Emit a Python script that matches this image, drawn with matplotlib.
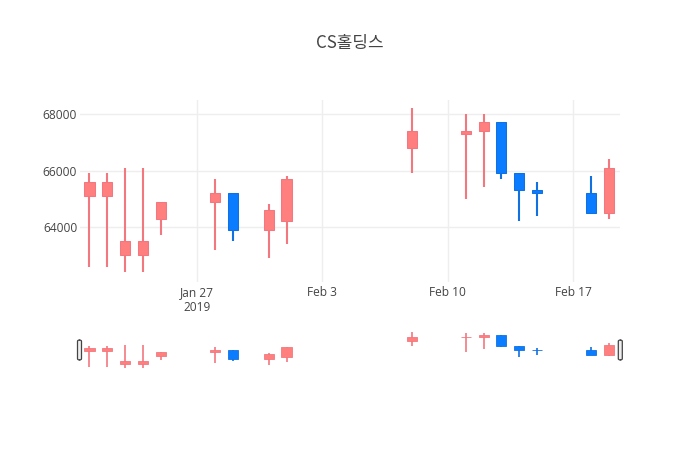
"""Candlestick chart for CS홀딩스 with a plotly-style range slider."""

import matplotlib

matplotlib.use("Agg")
import matplotlib.dates as mdates
import matplotlib.pyplot as plt
import numpy as np
import pandas as pd
from matplotlib.patches import FancyBboxPatch

plt.rcParams["font.family"] = ["Open Sans", "Noto Sans CJK KR", "DejaVu Sans"]

title = "CS홀딩스"
dates = ["2019-01-21", "2019-01-22", "2019-01-23", "2019-01-24", "2019-01-25",
         "2019-01-28", "2019-01-29", "2019-01-31", "2019-02-01", "2019-02-08",
         "2019-02-11", "2019-02-12", "2019-02-13", "2019-02-14", "2019-02-15",
         "2019-02-18", "2019-02-19"]
opens = [65100, 65100, 63000, 63000, 64300, 64900, 65200, 63900, 64200, 66800,
         67300, 67400, 67700, 65900, 65300, 65200, 64500]
highs = [65900, 65900, 66100, 66100, 64900, 65700, 65200, 64800, 65800, 68200,
         68000, 68000, 67700, 65900, 65600, 65800, 66400]
lows = [62600, 62600, 62400, 62400, 63700, 63200, 63500, 62900, 63400, 65900,
        65000, 65400, 65700, 64200, 64400, 64500, 64300]
closes = [65600, 65600, 63500, 63500, 64900, 65200, 63900, 64600, 65700, 67400,
          67400, 67700, 65900, 65300, 65200, 64500, 66100]
yticks = [64000, 66000, 68000]
xticks = ["2019-01-27", "2019-02-03", "2019-02-10", "2019-02-17"]
xticklabels = ["Jan 27\n2019", "Feb 3", "Feb 10", "Feb 17"]

UP_BODY, UP_LINE = "#FF7F7F", "#F2777F"
DOWN_BODY, DOWN_LINE = "#0A7CFF", "#1271E0"
TXT = "#444444"
GRID = "#EEEEEE"

x = mdates.date2num(pd.to_datetime(dates))
o, h, l, c = (np.array(v, dtype=float) for v in (opens, highs, lows, closes))
up = c > o

W, H = 700, 450
fig = plt.figure(figsize=(7, 4.5), dpi=100)
fig.patch.set_facecolor("white")

ax = fig.add_axes([80 / W, (H - 282) / H, 540 / W, 182 / H])
sl = fig.add_axes([80 / W, (H - 370) / H, 540 / W, 40 / H])

ref = mdates.date2num(pd.Timestamp("2019-01-27"))
xlim = (ref - 6.53, ref + 23.62)
ylim = (62053, 68496)


def candles(a, lw):
    body_w = 0.56
    for xi, oi, hi, li, ci, u in zip(x, o, h, l, c, up):
        line = UP_LINE if u else DOWN_LINE
        body = UP_BODY if u else DOWN_BODY
        a.vlines(xi, li, hi, color=line, lw=lw, zorder=2)
        lo_b, hi_b = min(oi, ci), max(oi, ci)
        a.bar(xi, max(hi_b - lo_b, 40), bottom=lo_b, width=body_w,
              color=body, edgecolor=line, linewidth=lw * 0.5, zorder=3)
    a.set_xlim(*xlim)
    a.set_ylim(*ylim)


candles(ax, 1.5)
ax.set_yticks(yticks)
ax.set_yticklabels([str(v) for v in yticks])
ax.set_xticks(mdates.date2num(pd.to_datetime(xticks)))
ax.set_xticklabels(xticklabels)
ax.grid(True, color=GRID, lw=1)
ax.set_axisbelow(True)
for s in ax.spines.values():
    s.set_visible(False)
ax.tick_params(length=0, labelsize=8.6, colors=TXT, pad=3)
ax.tick_params(axis="y", pad=2)
for lab in ax.get_xticklabels():
    lab.set_linespacing(1.15)

candles(sl, 1.2)
sl.set_xticks([])
sl.set_yticks([])
for s in sl.spines.values():
    s.set_visible(False)

# range slider handles
for cx in (79.5, 620.3):
    fig.add_artist(FancyBboxPatch(((cx - 2) / W, (H - 360) / H), 4 / W, 20 / H,
                                  boxstyle="round,pad=0,rounding_size=0.003",
                                  transform=fig.transFigure, facecolor="#EEEEEE",
                                  edgecolor="#444444", lw=0.9, zorder=5))

fig.text(350 / W, (H - 43) / H, title, ha="center", va="center",
         fontsize=12.2, color=TXT,
         family=["Noto Sans CJK KR", "DejaVu Sans"])

fig.savefig("out.png", dpi=100, facecolor="white")
